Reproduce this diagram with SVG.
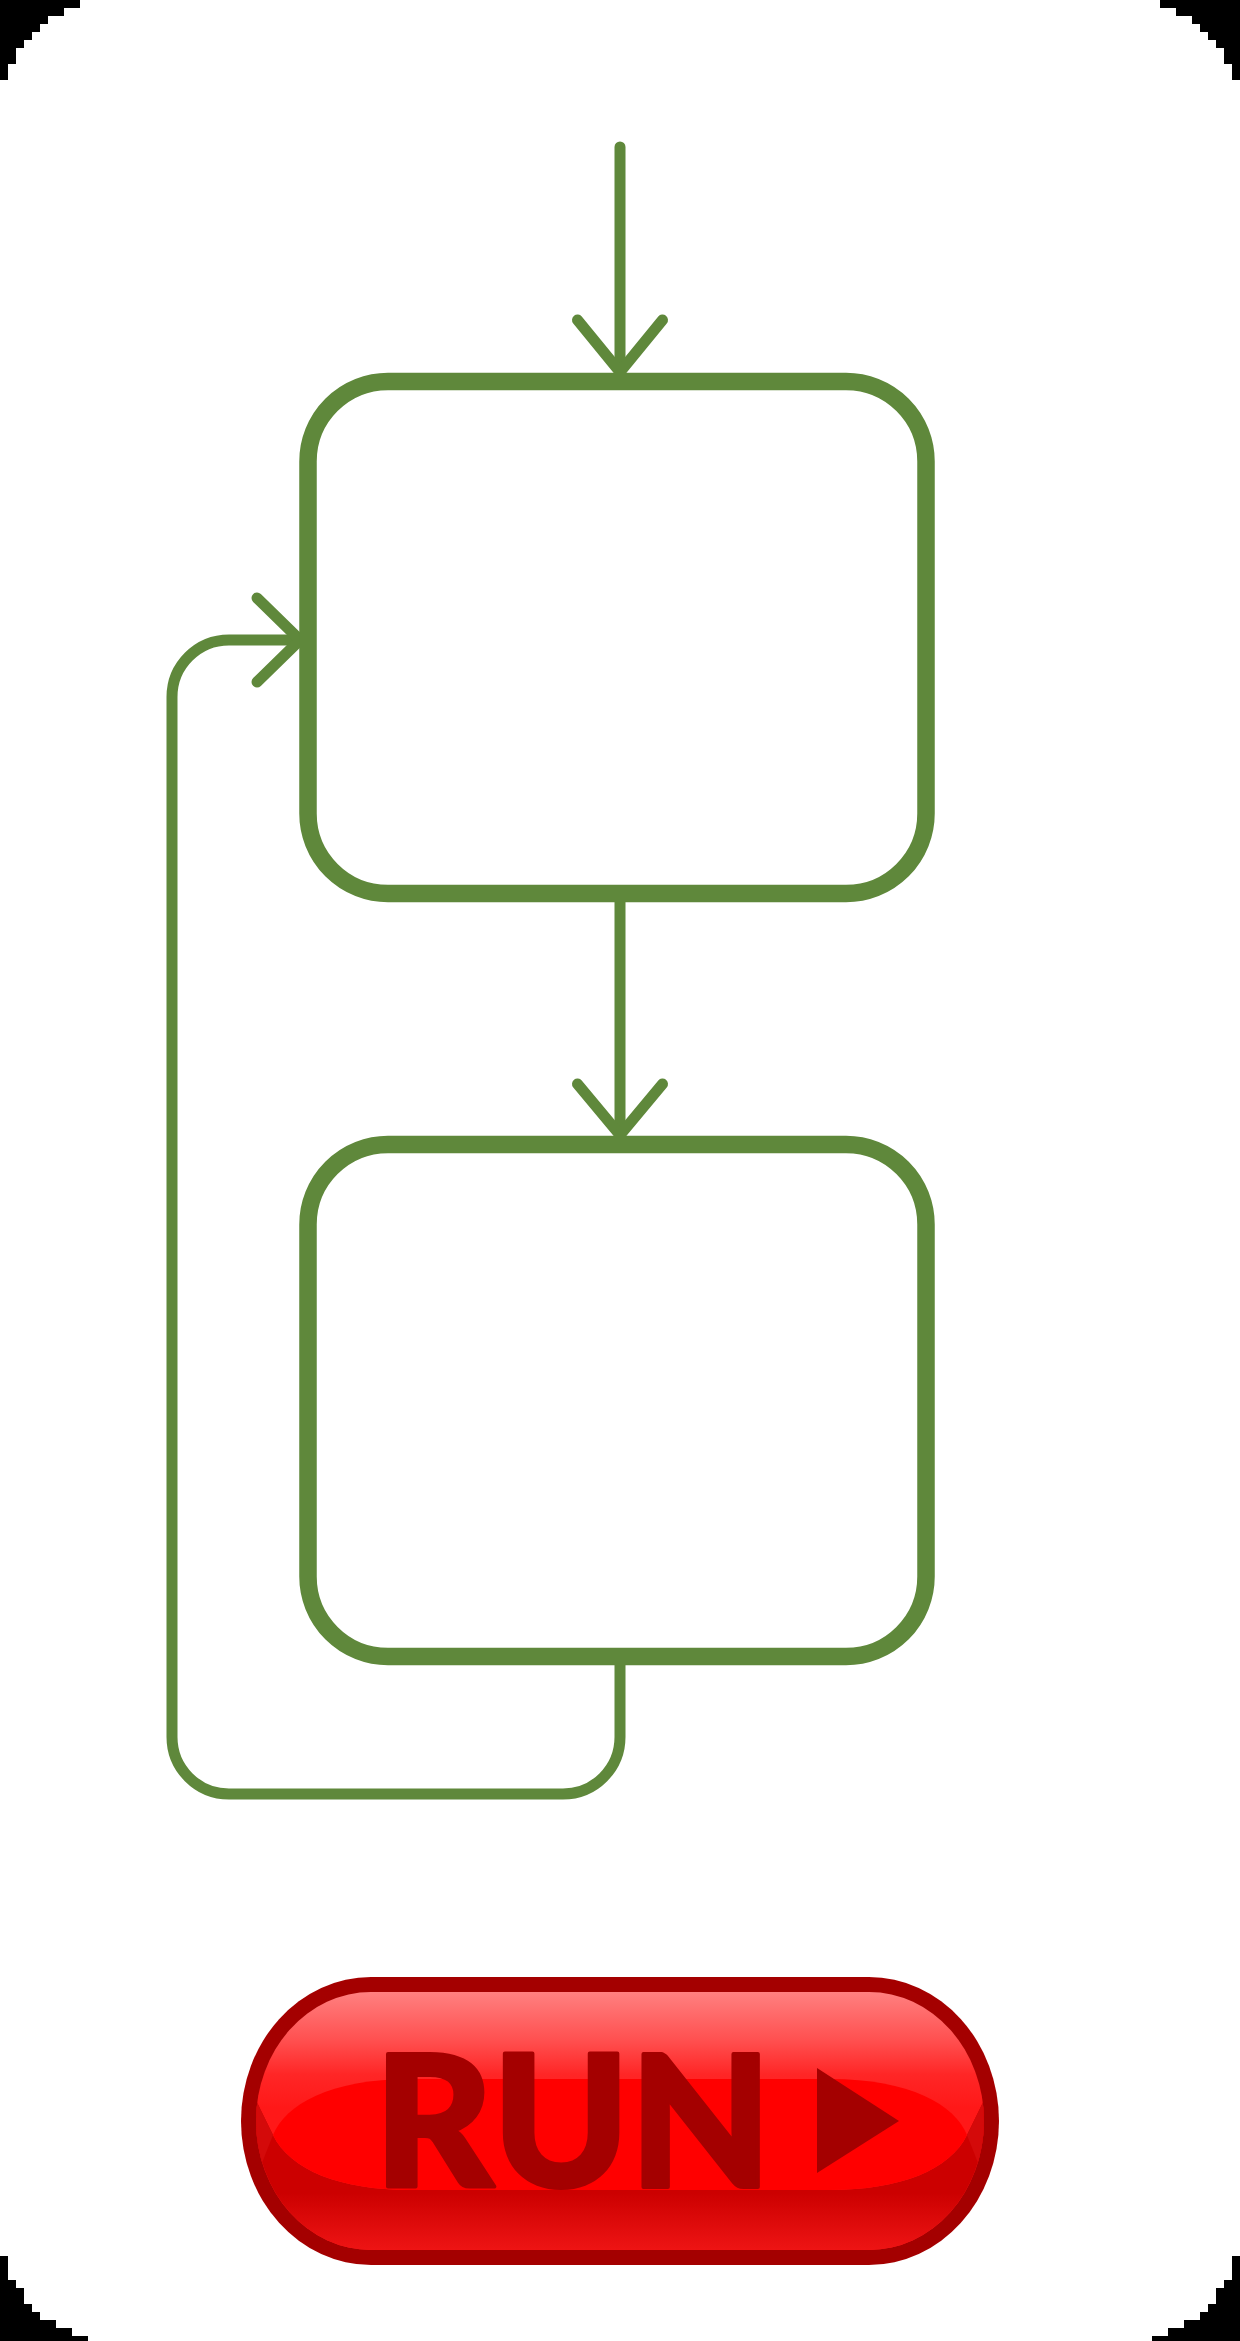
<svg xmlns="http://www.w3.org/2000/svg" width="1240" height="2341" viewBox="0 0 1240 2341">
  <style>
    .node { fill: #ffffff; stroke: #5f883b; stroke-width: 17.5; }
    .conn { fill: none; stroke: #5f883b; stroke-width: 11; stroke-linecap: round; stroke-linejoin: round; }
    .corner { fill: #000000; }
    .btn-text { font-family: Lato, "Liberation Sans", sans-serif; font-weight: 900; font-size: 184px; fill: #a40000; stroke: #a40000; stroke-width: 4; stroke-linejoin: round; }
  </style>
  <defs>
    <linearGradient id="btnTop" gradientUnits="userSpaceOnUse" x1="0" y1="1992" x2="0" y2="2250">
      <stop offset="0" stop-color="#ff8080"/>
      <stop offset="0.186" stop-color="#ff5050"/>
      <stop offset="0.32" stop-color="#ff2626"/>
      <stop offset="0.45" stop-color="#ff1818"/>
      <stop offset="1" stop-color="#ff1818"/>
    </linearGradient>
    <linearGradient id="btnLow" gradientUnits="userSpaceOnUse" x1="0" y1="2100" x2="0" y2="2250">
      <stop offset="0" stop-color="#cc0000"/>
      <stop offset="0.62" stop-color="#cc0000"/>
      <stop offset="1" stop-color="#ee1414"/>
    </linearGradient>
    <clipPath id="btnInner">
      <rect x="256" y="1992" width="728" height="258" rx="115" ry="129"/>
    </clipPath>
  </defs>
  <rect x="0" y="0" width="1240" height="2341" fill="#ffffff"/>
  <g id="corners">
    <path class="corner" d="M0,0 H80 V8 H64 V16 H48 V24 H40 V32 H32 V40 H24 V48 H16 V64 H8 V80 H0 Z"/>
    <path class="corner" d="M1240,0 H1160 V8 H1176 V16 H1192 V24 H1200 V32 H1208 V40 H1216 V48 H1224 V64 H1232 V80 H1240 Z"/>
    <path class="corner" d="M1240,2341 V2256 H1232 V2280 H1224 V2288 H1216 V2304 H1208 V2312 H1200 V2320 H1184 V2328 H1168 V2336 H1152 V2341 Z"/>
    <path class="corner" d="M0,2341 V2256 H8 V2280 H16 V2288 H24 V2304 H32 V2312 H40 V2320 H56 V2328 H72 V2336 H88 V2341 Z"/>
  </g>
  <g id="connectors">
    <g id="conn-start">
      <path class="conn" d="M620,147 V372"/>
      <path class="conn" d="M577.5,320 L620,372 L662.5,320"/>
    </g>
    <g id="conn-1-2">
      <path class="conn" d="M620,894 V1135"/>
      <path class="conn" d="M577.5,1084 L620,1135 L662.5,1084"/>
    </g>
    <g id="conn-loop">
      <path class="conn" d="M620,1656 V1737 A57,57 0 0 1 563,1794 H229 A57,57 0 0 1 172,1737 V697 A57,57 0 0 1 229,640 H300"/>
      <path class="conn" d="M257,598 L300,640 L257,682"/>
    </g>
  </g>
  <g id="node-1">
    <rect class="node" x="308" y="381.5" width="618" height="512" rx="80" ry="80"/>
  </g>
  <g id="node-2">
    <rect class="node" x="308" y="1144.5" width="618" height="512" rx="80" ry="80"/>
  </g>
  <g id="run-button">
    <rect x="241" y="1977" width="758" height="288" rx="130" ry="144" fill="#a40000"/>
    <rect x="256" y="1992" width="728" height="258" rx="115" ry="129" fill="url(#btnTop)"/>
    <g clip-path="url(#btnInner)">
      <path d="M250,2088 L273,2135 C290,2170 340,2190 410,2190 H830 C900,2190 950,2170 967,2135 L990,2088 V2260 H250 Z" fill="url(#btnLow)"/>
      <path d="M250,2088 L273,2135 L256,2178 L250,2178 Z" fill="#d40a0a"/>
      <path d="M990,2088 L967,2135 L984,2178 L990,2178 Z" fill="#d40a0a"/>
      <path d="M410,2079 H830 C910,2079 955,2105 967,2135 C950,2170 900,2190 830,2190 H410 C340,2190 290,2170 273,2135 C285,2105 330,2079 410,2079 Z" fill="#ff0000"/>
    </g>
    <text class="btn-text" x="573" y="2187" text-anchor="middle">RUN</text>
    <path d="M817,2068 L899,2121 L817,2173 Z" fill="#a40000"/>
  </g>
</svg>
